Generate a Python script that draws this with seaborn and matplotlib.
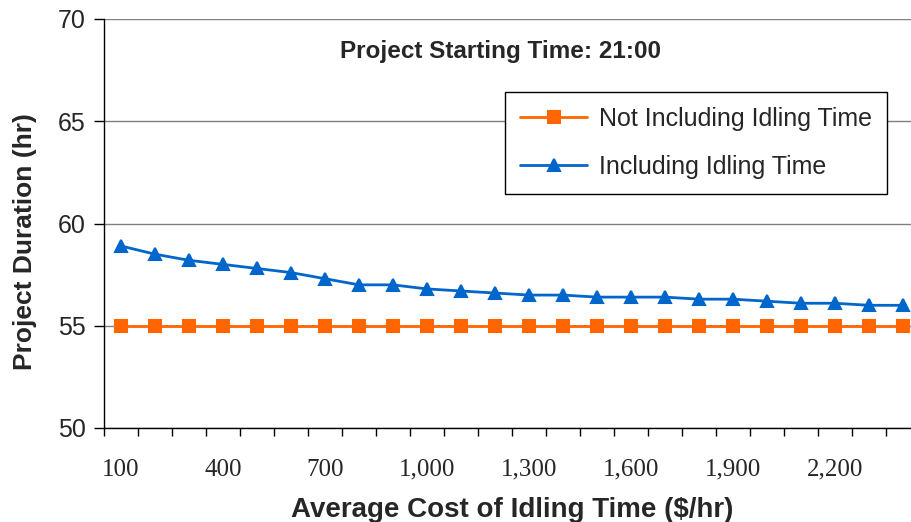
import pandas as pd
import matplotlib
matplotlib.use('Agg')
import matplotlib.pyplot as plt
import seaborn as sns

# Dados
custo = [100, 200, 300, 400, 500, 600, 700, 800, 900, 1000, 1100, 1200,
         1300, 1400, 1500, 1600, 1700, 1800, 1900, 2000, 2100, 2200, 2300, 2400]
sem_ocioso = [55.0] * 24
com_ocioso = [58.9, 58.5, 58.2, 58.0, 57.8, 57.6, 57.3, 57.0, 57.0, 56.8, 56.7, 56.6,
              56.5, 56.5, 56.4, 56.4, 56.4, 56.3, 56.3, 56.2, 56.1, 56.1, 56.0, 56.0]
series = ['Not Including Idling Time', 'Including Idling Time']
cores = ['#FF6600', '#0066CC']
marcadores = ['s', '^']

df = pd.DataFrame({
    'custo': [f'{c:,}' for c in custo] * 2,
    'duracao': sem_ocioso + com_ocioso,
    'serie': [series[0]] * len(custo) + [series[1]] * len(custo),
})

sns.set_style('white')
plt.rcParams['font.family'] = ['Liberation Sans', 'DejaVu Sans']

fig = plt.figure(figsize=(9.12, 5.22), dpi=100)
ax = fig.add_axes([104 / 912, 94 / 522, 816 / 912, 409 / 522])

sns.pointplot(data=df, x='custo', y='duracao', hue='serie', hue_order=series,
              palette=cores, markers=marcadores, linestyles='-', errorbar=None,
              markersize=9, linewidth=2, ax=ax)

ax.set_ylim(50, 70)
ax.set_xlim(-0.5, len(custo) - 0.5)
ax.set_yticks([50, 55, 60, 65, 70])
ax.yaxis.grid(True, color='#808080', linewidth=1)
ax.set_axisbelow(True)

# ticks nas fronteiras das categorias, rótulos a cada 3 categorias
pos = list(range(0, len(custo), 3))
ax.set_xticks(pos)
ax.set_xticklabels([f'{custo[i]:,}' for i in pos], family='Liberation Serif', fontsize=18)
ax.set_xticks([i - 0.5 for i in range(len(custo) + 1)], minor=True)
ax.tick_params(axis='x', which='major', length=0, pad=22)
ax.tick_params(axis='x', which='minor', length=6, width=1, color='black', direction='out', bottom=True)
ax.tick_params(axis='y', length=7, width=1, color='black', direction='out', left=True,
               labelsize=18, pad=6)

for lado in ['top', 'right']:
    ax.spines[lado].set_visible(False)
for lado in ['left', 'bottom']:
    ax.spines[lado].set_color('black')
    ax.spines[lado].set_linewidth(1)

ax.set_xlabel('Average Cost of Idling Time ($/hr)', fontsize=20, fontweight='bold', labelpad=12)
ax.set_ylabel('Project Duration (hr)', fontsize=19, fontweight='bold')
ax.yaxis.set_label_coords(-0.082, 0.455)

ax.text(0.4865, 0.92, 'Project Starting Time: 21:00', transform=ax.transAxes,
        ha='center', va='center', fontsize=17.5, fontweight='bold')

leg = ax.legend(loc='upper left', bbox_to_anchor=(0.4914, 0.8215), fontsize=18,
                frameon=True, fancybox=False, edgecolor='black', framealpha=1,
                handlelength=2.7, borderpad=0.6, labelspacing=0.95, handletextpad=0.45,
                borderaxespad=0)
leg.get_frame().set_linewidth(1)

fig.savefig('out.png', dpi=100)
